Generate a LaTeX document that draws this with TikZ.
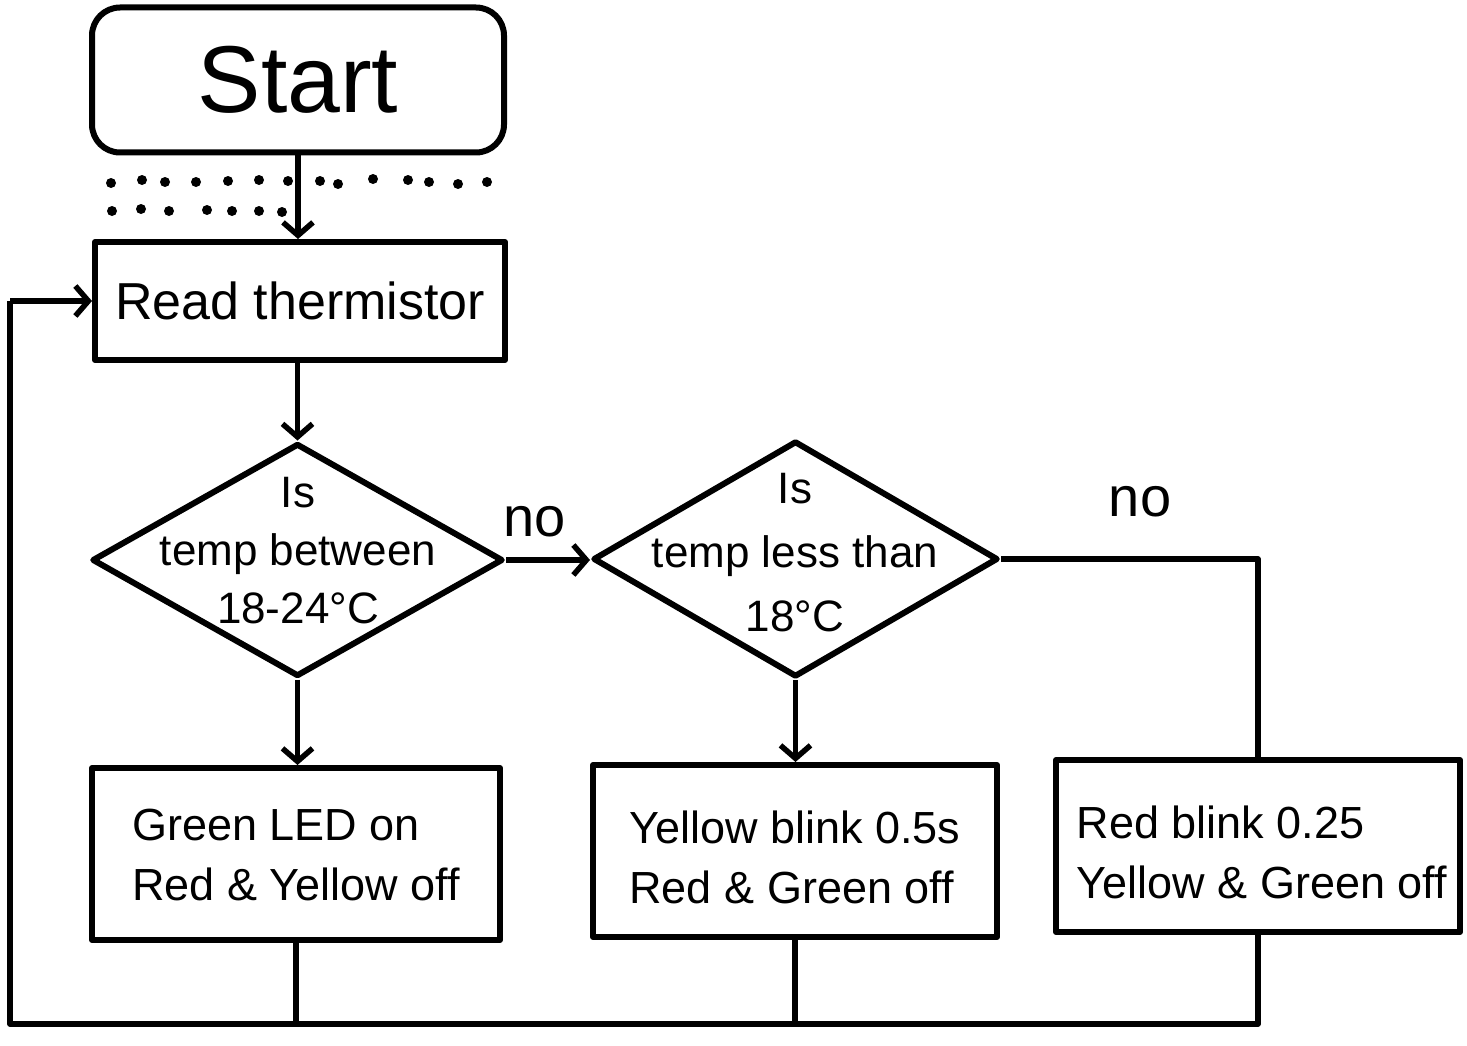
\documentclass[tikz,border=0pt]{standalone}
\usepackage{fontspec}
\setmainfont{Liberation Sans}
\usetikzlibrary{shapes.geometric,arrows.meta}
\begin{document}
\begin{tikzpicture}[x=1pt,y=-1pt,
  box/.style={draw,line width=6pt,rectangle,inner sep=0pt,line join=round},
  dia/.style={draw,line width=6pt,diamond,inner sep=0pt,line join=round},
  conn/.style={line width=5.5pt,line join=round},
  arr/.style={conn,-{Straight Barb[length=13pt,width=30pt]}},
  boxtext/.style={font=\fontsize{45}{60}\selectfont,align=left,inner sep=0pt},
  diatext/.style={font=\fontsize{44}{58}\selectfont,align=center,inner sep=0pt},
  notext/.style={font=\fontsize{56}{60}\selectfont,inner sep=0pt},
  dot/.style={fill=black,circle,inner sep=0pt,minimum size=10pt}
]
\useasboundingbox (0,0) rectangle (1467,1046);

% nodes
\node[box,rounded corners=28pt,minimum width=412pt,minimum height=145pt,
  font=\fontsize{95}{100}\selectfont] (start) at (298,80) {Start};
\node[box,minimum width=410pt,minimum height=118pt,
  font=\fontsize{52}{60}\selectfont] (read) at (300,301) {Read thermistor};
\node[dia,minimum width=411pt,minimum height=233pt] (d1) at (297.5,560) {};
\node[diatext] (d1t) at (298,551) {Is\\temp between\\18-24°C};
\node[dia,minimum width=405pt,minimum height=236pt] (d2) at (795.5,559) {};
\node[diatext,font=\fontsize{44}{64}\selectfont] (d2t) at (795,553) {Is\\temp less than\\18°C};
\node[box,minimum width=408pt,minimum height=172pt] (b1) at (296,854) {};
\node[boxtext] (b1t) at (296,855) {Green LED on\\Red \& Yellow off};
\node[box,minimum width=404pt,minimum height=172pt] (b2) at (795,851) {};
\node[boxtext] (b2t) at (795,857) {Yellow blink 0.5s\\Red \& Green off};
\node[box,minimum width=404pt,minimum height=172pt] (b3) at (1258,846) {};
\node[boxtext] (b3t) at (1262,852) {Red blink 0.25\\Yellow \& Green off};

\node[notext] (no1) at (535,522) {no};
\node[notext] (no2) at (1140,502) {no};

\coordinate (bl) at (10,1024);
\coordinate (br) at (1258,1024);

% connectors
\draw[arr] (start.south) -- (start.south |- read.north);
\draw[arr] (read.south -| d1.north) -- (d1.north);
\draw[arr] (d1.east) -- (d1.east -| d2.west);
\draw[conn] (d2.east) -| (b3.north);
\draw[arr] (d1.south) -- (b1.north -| d1.south);
\draw[arr] (d2.south) -- (b2.north -| d2.south);
\draw[conn] (b3.south) -- (br) -- (bl) -- (bl |- read.west);
\draw[arr] (bl |- read.west) -- (read.west);
\draw[conn] (b1.south) -- (b1.south |- bl);
\draw[conn] (b2.south) -- (b2.south |- bl);

% dotted rows
\foreach \x/\y in {111/183,142/180,165/182,196/182,228/181,259/180,288/181,320/181,338/184,373/179,408/180,429/182,458/184,487/182}
  \node[dot] at (\x,\y) {};
\foreach \x/\y in {112/211,141/209,169/211,207/210,232/211,259/211,282/212}
  \node[dot] at (\x,\y) {};
\end{tikzpicture}
\end{document}
